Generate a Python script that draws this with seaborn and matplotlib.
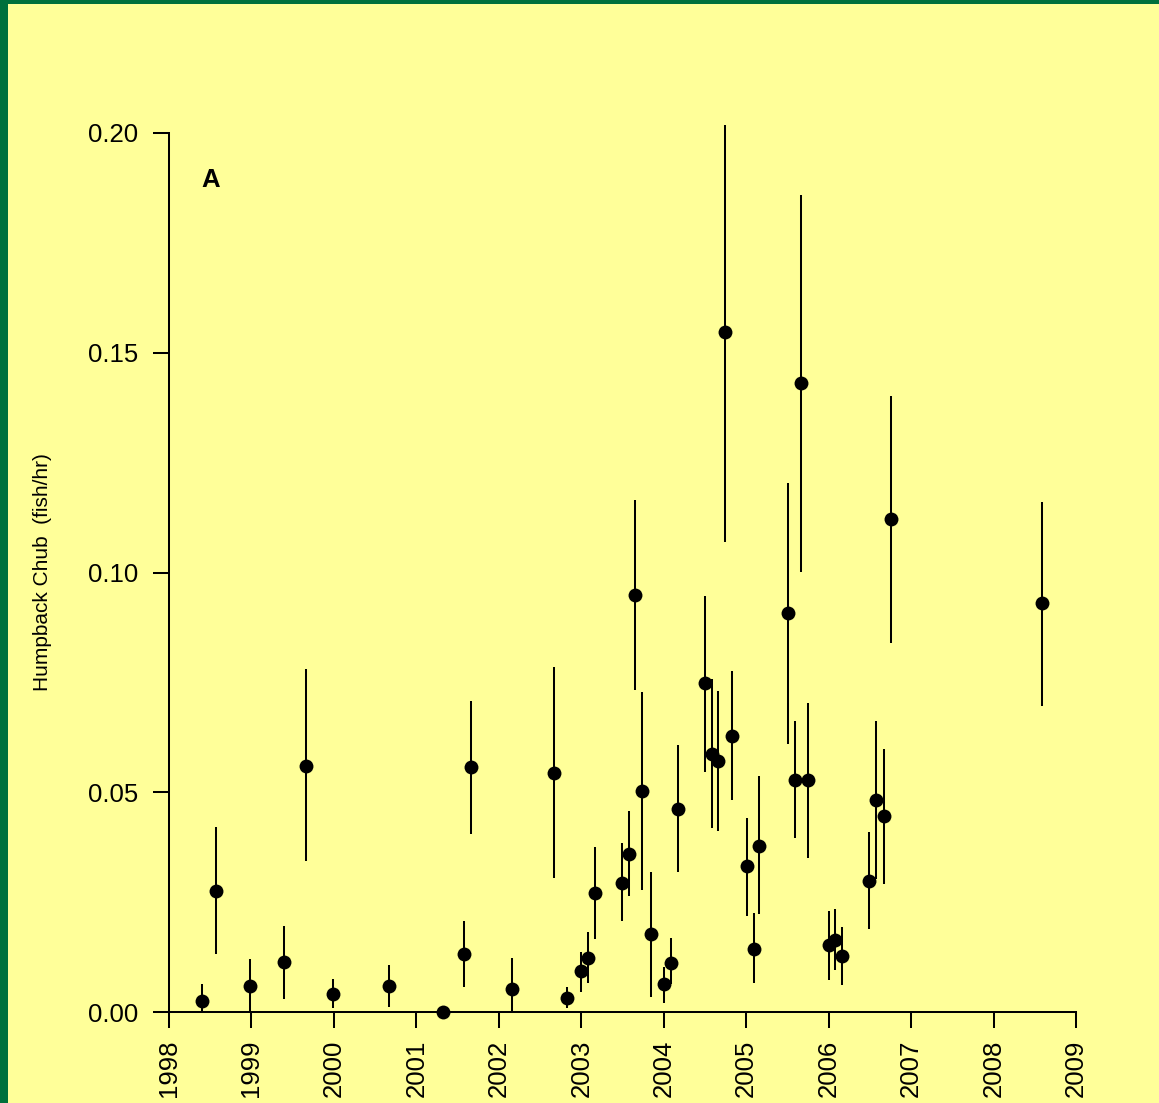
import numpy as np
import pandas as pd
import seaborn as sns
import matplotlib
matplotlib.use("Agg")
import matplotlib.pyplot as plt
from matplotlib.patches import Rectangle

# ---- data ----
year = [1998.405, 1998.574, 1998.983, 1999.396, 1999.663, 1999.990, 2000.670, 2001.329,
        2001.577, 2001.661, 2002.154, 2002.664, 2002.830, 2002.996, 2003.081, 2003.161,
        2003.489, 2003.574, 2003.655, 2003.737, 2003.841, 2004.004, 2004.089, 2004.169,
        2004.499, 2004.581, 2004.663, 2004.748, 2004.829, 2005.015, 2005.096, 2005.157,
        2005.506, 2005.589, 2005.670, 2005.755, 2006.001, 2006.083, 2006.167, 2006.495,
        2006.577, 2006.677, 2006.758, 2008.591]
cpue = [0.0025, 0.0275, 0.0059, 0.0113, 0.0560, 0.0040, 0.0059, 0.0000,
        0.0133, 0.0557, 0.0052, 0.0544, 0.0032, 0.0094, 0.0124, 0.0271,
        0.0294, 0.0360, 0.0949, 0.0502, 0.0178, 0.0063, 0.0112, 0.0463,
        0.0749, 0.0586, 0.0571, 0.1547, 0.0629, 0.0332, 0.0144, 0.0378,
        0.0908, 0.0529, 0.1431, 0.0529, 0.0152, 0.0163, 0.0128, 0.0298,
        0.0483, 0.0445, 0.1122, 0.0930]
lower = [0.0000, 0.0131, 0.0000, 0.0030, 0.0344, 0.0008, 0.0012, 0.0000,
         0.0058, 0.0405, 0.0000, 0.0304, 0.0008, 0.0046, 0.0065, 0.0165,
         0.0207, 0.0265, 0.0733, 0.0278, 0.0035, 0.0020, 0.0063, 0.0319,
         0.0547, 0.0419, 0.0412, 0.1070, 0.0482, 0.0219, 0.0065, 0.0223,
         0.0609, 0.0397, 0.1001, 0.0350, 0.0073, 0.0096, 0.0061, 0.0188,
         0.0303, 0.0292, 0.0840, 0.0697]
upper = [0.0064, 0.0422, 0.0121, 0.0195, 0.0780, 0.0075, 0.0106, 0.0000,
         0.0207, 0.0708, 0.0122, 0.0784, 0.0058, 0.0136, 0.0183, 0.0375,
         0.0384, 0.0457, 0.1165, 0.0727, 0.0318, 0.0102, 0.0168, 0.0607,
         0.0946, 0.0757, 0.0730, 0.2018, 0.0776, 0.0441, 0.0225, 0.0538,
         0.1204, 0.0661, 0.1859, 0.0703, 0.0230, 0.0234, 0.0194, 0.0410,
         0.0661, 0.0599, 0.1402, 0.1161]
x_ticks = list(range(1998, 2010))
y_ticks = [0.00, 0.05, 0.10, 0.15, 0.20]
y_tick_labels = ["0.00", "0.05", "0.10", "0.15", "0.20"]
panel_label = "A"
y_label = "Humpback Chub  (fish/hr)"

df = pd.DataFrame({"year": year, "cpue": cpue, "lower": lower, "upper": upper})

# ---- style ----
sns.set_style("ticks")
plt.rcParams["font.family"] = ["Liberation Sans", "DejaVu Sans"]

BG = "#FFFF99"
GREEN = "#00703C"

W, H = 1159, 1103
fig = plt.figure(figsize=(W / 100, H / 100), dpi=100, facecolor=BG)

xlim = (1997.6, 2009.4)
ylim = (-0.01, 0.21)
px_per_year = 82.4
left_px = 169 - (1998 - xlim[0]) * px_per_year
right_px = 1076 + (xlim[1] - 2009) * px_per_year
px_per_unit = (1012 - 133) / 0.20
top_px = 133 - (ylim[1] - 0.20) * px_per_unit
bot_px = 1012 - ylim[0] * px_per_unit

ax = fig.add_axes([left_px / W, (H - bot_px) / H,
                   (right_px - left_px) / W, (bot_px - top_px) / H])
ax.set_facecolor(BG)

# error bars
ax.vlines(df["year"], df["lower"], df["upper"], colors="black", linewidth=1.45, zorder=2)
# points
sns.scatterplot(data=df, x="year", y="cpue", ax=ax, color="black", s=100,
                edgecolor="black", linewidth=0, zorder=3, clip_on=False, legend=False)

ax.set_xlim(*xlim)
ax.set_ylim(*ylim)

for side in ["top", "right"]:
    ax.spines[side].set_visible(False)
ax.spines["left"].set_position(("data", 1998))
ax.spines["bottom"].set_position(("data", 0))
ax.spines["left"].set_bounds(0, 0.20)
ax.spines["bottom"].set_bounds(1998, 2009)
for side in ["left", "bottom"]:
    ax.spines[side].set_linewidth(1.45)
    ax.spines[side].set_color("black")

ax.set_xticks(x_ticks)
ax.set_xticklabels([str(t) for t in x_ticks], rotation=90)
ax.set_yticks(y_ticks)
ax.set_yticklabels(y_tick_labels)
ax.tick_params(axis="both", direction="out", length=11.5, width=1.45,
               colors="black", labelsize=18.5)
ax.tick_params(axis="y", pad=11)
ax.tick_params(axis="x", pad=8.5)

ax.set_xlabel("")
ax.set_ylabel(y_label, fontsize=15, color="black")
ax.yaxis.set_label_coords((52 - left_px) / (right_px - left_px), 0.5)

ax.text(1998.5, 0.1893, panel_label, ha="center", va="center",
        fontsize=18.5, fontweight="bold", color="black")

# green frame at top and left
fig.patches.append(Rectangle((0, 0), 8 / W, 1, transform=fig.transFigure,
                             facecolor=GREEN, edgecolor="none", zorder=10))
fig.patches.append(Rectangle((0, 1 - 4 / H), 1, 4 / H, transform=fig.transFigure,
                             facecolor=GREEN, edgecolor="none", zorder=10))

fig.savefig("out.png", dpi=100, facecolor=BG)
